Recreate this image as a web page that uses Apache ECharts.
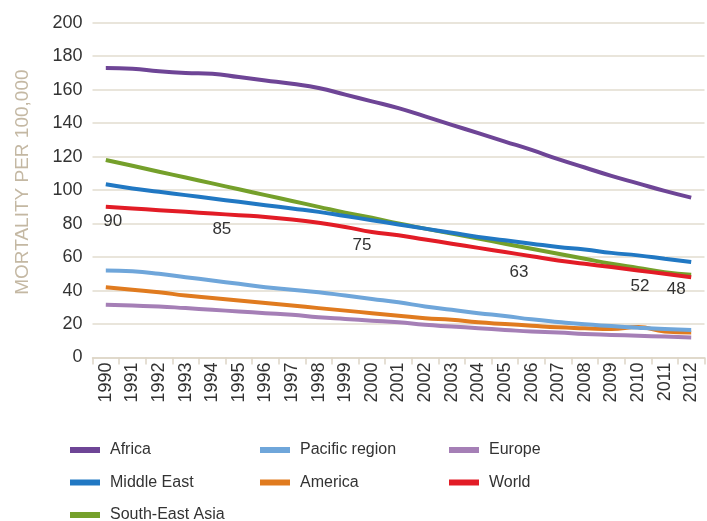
<!DOCTYPE html>
<html>
<head>
<meta charset="utf-8">
<script src="https://cdn.jsdelivr.net/npm/echarts@6/dist/echarts.min.js"></script>
<style>html,body{margin:0;padding:0;background:#fff}#c{width:707px;height:521px}</style>
</head>
<body>
<div id="c"></div>
<script>
const years = ['1990','1991','1992','1993','1994','1995','1996','1997','1998','1999','2000','2001','2002','2003','2004','2005','2006','2007','2008','2009','2010','2011','2012'];
const africa = [173,172.5,171,170,169.5,167.5,165.5,163.5,161,157,153,149,144,139,134,129,124,118.5,113.5,108.5,104,99.5,95.5];
const middleEast = [103.5,101,99,97,95,93,91,89,87,84.5,82,79.5,77,74.5,72,70,68,66,64.5,62.5,61,59,57];
const southEastAsia = [118,114.5,111,107.5,104,100.5,97,93.5,90,86.5,83.5,80,77,74,71,68,65,62,59,56,53.5,51,49.5];
const pacific = [52,51.5,50,48,46,44,42,40.5,39,37,35,33,30.5,28.5,26.5,24.8,22.8,21.2,19.8,18.8,17.8,17,16.5];
const america = [42,40.5,39,37,35.5,34,32.5,31,29.5,28,26.5,25,23.5,22.5,21,20,19,18,17.5,17,18.2,15.6,15];
const europe = [31.5,31,30.5,29.5,28.5,27.5,26.5,25.5,24,23,22,21,19.5,18.5,17.5,16.5,15.5,15,14,13.5,13,12.5,12];
const world = [90,89,88,87,86,85,84,82.5,80.5,78,75,73,70.5,68,65.5,63,60.5,58,56,54,52,50,48];
const worldLabelIdx = [0,5,10,15,20,22];
const yTicks = [0,20,40,60,80,100,120,140,160,180,200];

// label placement (layout only)
const labelOffsets = {0:[7,1],5:[-17,1],10:[-10,0],15:[14,7],20:[2,2],22:[-15,-1]};

const worldData = world.map((v,i)=>{
  if (worldLabelIdx.indexOf(i) >= 0) {
    return {value:v,label:{show:true,position:'bottom',offset:labelOffsets[i],formatter:String(v),color:'#333',fontSize:17,fontFamily:'Liberation Sans, Arial, sans-serif'}};
  }
  return v;
});

const colors = {
  'Africa':'#6e4596','Middle East':'#2178c3','South-East Asia':'#75a02b',
  'Pacific region':'#6fa6da','America':'#e07b1f','Europe':'#a57fb6','World':'#e21c26'
};

function mk(name, data, z){
  return {name, type:'line', data, smooth:true, showSymbol:false, symbol:'none', z:z,
    lineStyle:{width:4,color:colors[name]}, itemStyle:{color:colors[name]}};
}

const chart = echarts.init(document.getElementById('c'), null, {renderer:'canvas'});
const legText = {color:'#333',fontSize:16,lineHeight:16,fontFamily:'Liberation Sans, Arial, sans-serif',padding:[0,0,0,5]};
const legCommon = {orient:'vertical',icon:'rect',itemWidth:30,itemHeight:6,itemGap:16.5,padding:0,height:100,textStyle:legText,selectedMode:false};
const worldSeries = mk('World',worldData,7);
worldSeries.showSymbol = true;
worldSeries.symbol = 'circle';
worldSeries.symbolSize = 0.01;
worldSeries.label = {show:false};
chart.setOption({
  animation:false,
  textStyle:{fontFamily:'Liberation Sans, Arial, sans-serif'},
  grid:{left:92.5,right:2.5,top:22.7,bottom:163.5,containLabel:false},
  legend:[
    Object.assign({left:70,top:442,data:['Africa','Middle East','South-East Asia']},legCommon),
    Object.assign({left:260,top:442,data:['Pacific region','America']},legCommon),
    Object.assign({left:449,top:442,data:['Europe','World']},legCommon)
  ],
  xAxis:{type:'category',data:years,boundaryGap:true,
    axisLine:{lineStyle:{color:'#ddd5c6',width:1.5}},
    axisTick:{show:true,length:7,lineStyle:{color:'#ddd5c6',width:1.5}},
    axisLabel:{rotate:90,color:'#333',fontSize:18,margin:5,interval:0}},
  yAxis:{type:'value',min:0,max:200,interval:20,
    name:'MORTALITY PER 100,000',nameLocation:'middle',nameGap:60,
    nameTextStyle:{color:'#c4b8a3',fontSize:19,padding:[0,0,0,16]},
    axisLine:{show:false},axisTick:{show:false},
    axisLabel:{color:'#333',fontSize:18,margin:10},
    splitLine:{lineStyle:{color:'#e2dccf',width:1.5}}},
  series:[
    mk('Europe',europe,2),
    mk('America',america,3),
    mk('Pacific region',pacific,4),
    mk('South-East Asia',southEastAsia,5),
    mk('Middle East',middleEast,6),
    worldSeries,
    mk('Africa',africa,8)
  ]
});
</script>
</body>
</html>
